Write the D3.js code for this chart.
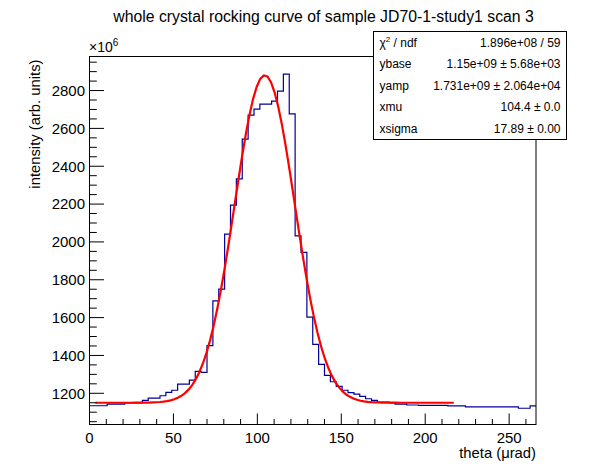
<!DOCTYPE html>
<html>
<head>
<meta charset="utf-8">
<script src="https://cdn.jsdelivr.net/npm/d3@7"></script>
<style>
  body { margin: 0; background: #fff; }
  svg { font-family: "Liberation Sans", Arial, Helvetica, sans-serif; }
</style>
</head>
<body>
<svg width="596" height="472"></svg>
<script>
  // histogram: 76 bins of 3.5 urad, counts in units of 1e6
  const binWidth = 3.5;
  const counts = [
    1134, 1134, 1134, 1143, 1143, 1143, 1149, 1149, 1149, 1163,
    1174, 1174, 1187, 1205, 1216, 1248, 1248, 1270, 1316, 1311,
    1452, 1688, 1750, 2041, 2194, 2333, 2543, 2670, 2702, 2728,
    2728, 2744, 2797, 2887, 2677, 2032, 1945, 1602, 1459, 1353,
    1295, 1261, 1237, 1216, 1203, 1196, 1184, 1171, 1163, 1154,
    1154, 1149, 1143, 1143, 1138, 1138, 1136, 1136, 1136, 1136,
    1136, 1133, 1133, 1133, 1128, 1128, 1128, 1128, 1128, 1128,
    1128, 1128, 1128, 1121, 1121, 1133
  ];

  // fit parameters (gaussian on a flat base), y in units of 1e6
  const fitNames = ['ybase', 'yamp', 'xmu', 'xsigma'];
  const fitValues = [1150, 1731, 104.4, 17.89];
  const fitRange = [3.5, 217];
  const statRows = [
    ['χ² / ndf', '1.896e+08 / 59'],
    ['ybase', '1.15e+09 ± 5.68e+03'],
    ['yamp', '1.731e+09 ± 2.064e+04'],
    ['xmu', '104.4 ± 0.0'],
    ['xsigma', '17.89 ± 0.00']
  ];

  const xTicks = [0, 50, 100, 150, 200, 250];
  const yTicks = [1200, 1400, 1600, 1800, 2000, 2200, 2400, 2600, 2800];

  const svg = d3.select('svg');
  const frame = { left: 89.5, right: 536, top: 56.5, bottom: 424.5 };

  const xScale = d3.scaleLinear().domain([0, 266]).range([frame.left, frame.right]);
  const yScale = d3.scaleLinear().domain([1035, 2980]).range([frame.bottom, frame.top]);

  // title
  svg.append('text')
    .attr('x', 323.5)
    .attr('y', 22)
    .attr('text-anchor', 'middle')
    .attr('font-size', 15.8)
    .text('whole crystal rocking curve of sample JD70-1-study1 scan 3');

  // histogram outline
  const hist = d3.path();
  counts.forEach((c, i) => {
    const x0 = xScale(i * binWidth);
    const x1 = xScale((i + 1) * binWidth);
    if (i === 0) hist.moveTo(x0, yScale(c));
    else hist.lineTo(x0, yScale(c));
    hist.lineTo(x1, yScale(c));
  });
  svg.append('path')
    .attr('d', hist.toString())
    .attr('fill', 'none')
    .attr('stroke', '#000099')
    .attr('stroke-width', 1.2);

  // fit curve
  const [ybase, yamp, xmu, xsigma] = fitValues;
  const fitFn = x => ybase + yamp * Math.exp(-0.5 * ((x - xmu) / xsigma) ** 2);
  const fitX = d3.range(101).map(i => fitRange[0] + (fitRange[1] - fitRange[0]) * i / 100);
  const line = d3.line().x(d => xScale(d)).y(d => yScale(fitFn(d)));
  svg.append('path')
    .datum(fitX)
    .attr('d', line)
    .attr('fill', 'none')
    .attr('stroke', '#ff0000')
    .attr('stroke-width', 2.2);

  // frame
  svg.append('rect')
    .attr('x', frame.left)
    .attr('y', frame.top)
    .attr('width', frame.right - frame.left)
    .attr('height', frame.bottom - frame.top)
    .attr('fill', 'none')
    .attr('stroke', '#000')
    .attr('stroke-width', 1);

  // x axis ticks (inside)
  const xAxisG = svg.append('g').attr('stroke', '#000').attr('stroke-width', 1);
  d3.range(0, 266, 10).forEach(v => {
    const major = v % 50 === 0;
    xAxisG.append('line')
      .attr('x1', xScale(v)).attr('x2', xScale(v))
      .attr('y1', frame.bottom).attr('y2', frame.bottom - (major ? 11 : 5.5));
  });
  svg.selectAll('.x-label').data(xTicks).enter().append('text')
    .attr('class', 'x-label')
    .attr('x', d => xScale(d))
    .attr('y', 443)
    .attr('text-anchor', 'middle')
    .attr('font-size', 15)
    .text(d => d);

  svg.append('text')
    .attr('x', frame.right)
    .attr('y', 458)
    .attr('text-anchor', 'end')
    .attr('font-size', 14.8)
    .text('theta (μrad)');

  // y axis ticks (inside)
  const yAxisG = svg.append('g').attr('stroke', '#000').attr('stroke-width', 1);
  d3.range(1050, 2980, 50).forEach(v => {
    const major = v % 200 === 0;
    yAxisG.append('line')
      .attr('x1', frame.left).attr('x2', frame.left + (major ? 14.5 : 7.3))
      .attr('y1', yScale(v)).attr('y2', yScale(v));
  });
  svg.selectAll('.y-label').data(yTicks).enter().append('text')
    .attr('class', 'y-label')
    .attr('x', 85)
    .attr('y', d => yScale(d))
    .attr('dy', '0.36em')
    .attr('text-anchor', 'end')
    .attr('font-size', 15)
    .text(d => d);

  const expo = svg.append('text')
    .attr('x', 89)
    .attr('y', 52)
    .attr('font-size', 14);
  expo.append('tspan').text('×10');
  expo.append('tspan').attr('dy', -6).attr('font-size', 10).text('6');

  svg.append('text')
    .attr('transform', `translate(40, ${frame.top + 3}) rotate(-90)`)
    .attr('text-anchor', 'end')
    .attr('font-size', 14.8)
    .text('intensity (arb. units)');

  // stats box
  const box = { x: 373.5, y: 31.5, w: 193, h: 108 };
  const rowH = box.h / statRows.length;
  svg.append('rect')
    .attr('x', box.x).attr('y', box.y)
    .attr('width', box.w).attr('height', box.h)
    .attr('fill', '#fff')
    .attr('stroke', '#000');
  const rows = svg.selectAll('.stat').data(statRows).enter().append('g')
    .attr('class', 'stat')
    .attr('transform', (d, i) => `translate(0, ${box.y + rowH * (i + 0.5)})`);
  rows.append('text')
    .attr('x', box.x + 6)
    .attr('dy', '0.36em')
    .attr('font-size', 12)
    .each(function (d) {
      const t = d3.select(this);
      if (d[0].startsWith('χ²')) {
        t.append('tspan').text('χ');
        t.append('tspan').attr('dy', -5).attr('font-size', 8).text('2');
        t.append('tspan').attr('dy', 5).text(' / ndf');
      } else {
        t.text(d[0]);
      }
    });
  rows.append('text')
    .attr('x', box.x + box.w - 6)
    .attr('dy', '0.36em')
    .attr('text-anchor', 'end')
    .attr('font-size', 12)
    .text(d => d[1]);
</script>
</body>
</html>
